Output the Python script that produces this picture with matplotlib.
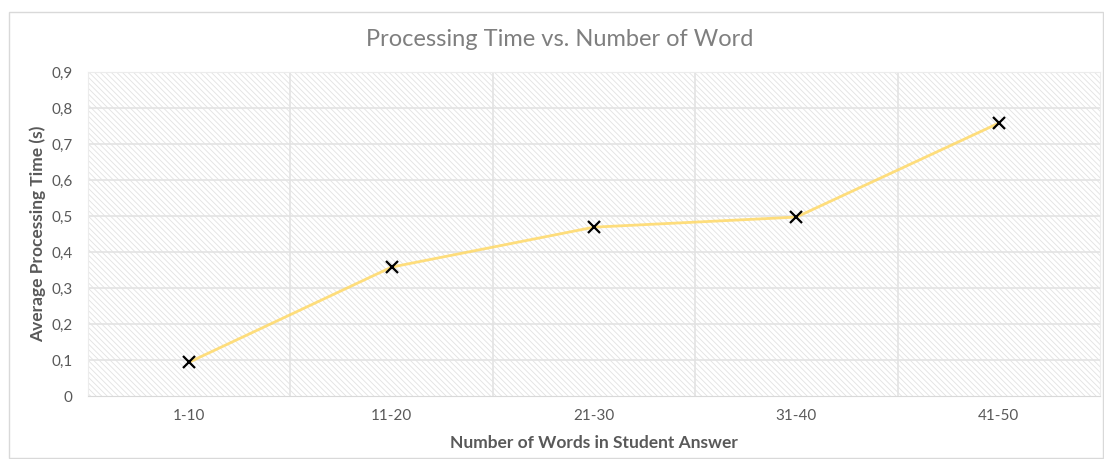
import matplotlib.pyplot as plt
from matplotlib.patches import Rectangle

# data
categories = ['1-10', '11-20', '21-30', '31-40', '41-50']
avg_time = [0.094, 0.358, 0.469, 0.497, 0.758]
y_ticks = [0, 0.1, 0.2, 0.3, 0.4, 0.5, 0.6, 0.7, 0.8, 0.9]
y_tick_labels = ['0', '0,1', '0,2', '0,3', '0,4', '0,5', '0,6', '0,7', '0,8', '0,9']

plt.rcParams['font.family'] = ['Lato', 'DejaVu Sans']
plt.rcParams['hatch.linewidth'] = 0.6

fig = plt.figure(figsize=(11.04, 4.59), dpi=100)
fig.patch.set_facecolor('white')

# outer chart frame
fig.add_artist(Rectangle((9 / 1104, 0.002), 1 - 10 / 1104, 1 - 12 / 459 - 0.002,
                         transform=fig.transFigure, fill=False,
                         edgecolor='#d9d9d9', linewidth=1))

ax = fig.add_axes([88 / 1104, 1 - 396 / 459, (1100 - 88) / 1104, (396 - 72) / 459])
x = list(range(len(categories)))

# hatched plot area
ax.add_patch(Rectangle((0, 0), 1, 1, transform=ax.transAxes, facecolor='white',
                       edgecolor='#e2e2e2', hatch='\\' * 6, linewidth=0, zorder=0))

ax.set_xlim(-0.5, len(categories) - 0.5)
ax.set_ylim(0, 0.9)

for yv in y_ticks[1:]:
    ax.axhline(yv, color='#e3e3e3', linewidth=1.2, zorder=1)
for xv in [i + 0.5 for i in x[:-1]]:
    ax.axvline(xv, color='#e3e3e3', linewidth=1.2, zorder=1)

ax.plot(x, avg_time, color='#ffd966', linewidth=2, alpha=0.85, zorder=2)
ax.plot(x, avg_time, linestyle='none', marker='x', markersize=8,
        markeredgewidth=1.6, color='black', zorder=3)

ax.set_xticks(x)
ax.set_xticklabels(categories)
ax.set_yticks(y_ticks)
ax.set_yticklabels(y_tick_labels)
ax.tick_params(length=0, labelsize=11, labelcolor='#595959', pad=9)
ax.tick_params(axis='y', pad=11)

for side in ['left', 'right', 'top']:
    ax.spines[side].set_color('#ececec')
ax.spines['bottom'].set_color('#d9d9d9')

ax.set_xlabel('Number of Words in Student Answer', fontsize=12.5, fontweight='bold',
              color='#595959', labelpad=9)
ax.set_ylabel('Average Processing Time (s)', fontsize=12.5, fontweight='bold',
              color='#595959', labelpad=4)

fig.text(0.507, 1 - 40 / 459, 'Processing Time vs. Number of Word', fontsize=17,
         color='#7f7f7f', ha='center', va='center')

fig.savefig('out.png', dpi=100)
